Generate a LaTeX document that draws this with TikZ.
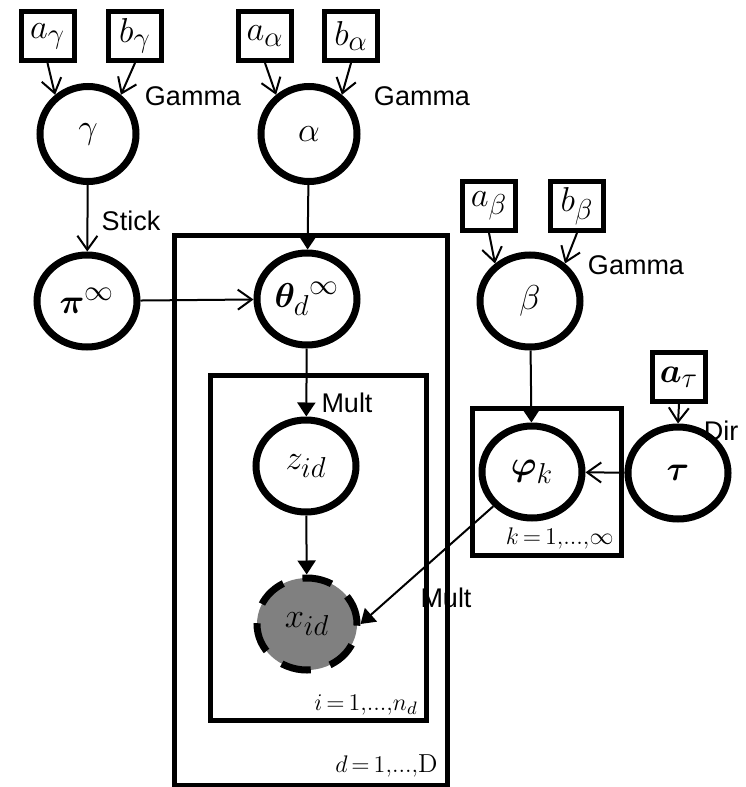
\documentclass[tikz,border=0pt]{standalone}
\usepackage{bm}
\usepackage{fontspec}
\newfontfamily\lblfont{Liberation Sans}
\usetikzlibrary{arrows.meta,shapes.geometric}
\newcommand{\tighteq}{\thickmuskip=3mu\relax}

\tikzset{
  rv/.style={ellipse, draw, line width=3.5pt, minimum width=50pt, minimum height=46pt,
    inner sep=0pt, font=\fontsize{19}{21}\selectfont},
  hyper/.style={rectangle, draw, line width=2.5pt, minimum width=26.5pt, minimum height=24.5pt,
    inner sep=0pt, font=\fontsize{19}{21}\selectfont},
  obs/.style={rv, fill=black!50, dash pattern=on 15pt off 10pt},
  plate/.style={draw, line width=2.5pt},
  dist/.style={font=\lblfont\fontsize{13.5}{15}\selectfont},
  platelbl/.style={anchor=east, inner sep=0pt, font=\fontsize{13}{15}\selectfont},
  openarr/.style={-{Straight Barb[length=7pt,width=10pt]}, line width=1pt},
  fillarr/.style={-{Triangle[length=7pt,width=9pt]}, line width=1pt}
}

\begin{document}
\begin{tikzpicture}[x=0.5pt, y=-0.5pt]
  \useasboundingbox (0,0) rectangle (745,787);

  % plates
  \draw[plate] (174.5,235) rectangle (447.5,785);
  \draw[plate] (210,375.5) rectangle (426.5,720.5);
  \draw[plate] (472,408.5) rectangle (621.5,555.5);
  \node[platelbl] (dlbl) at (438,766) {$\tighteq d=1{,}...{,}\mathrm{D}$};
  \node[platelbl] (ilbl) at (418,705) {$\tighteq i=1{,}...{,}n_d$};
  \node[platelbl] (klbl) at (614,538) {$\tighteq k=1{,}...{,}\infty$};

  % hyperparameters
  \node[hyper] (agamma) at (47.5,36) {$a_\gamma$};
  \node[hyper] (bgamma) at (135,36) {$b_\gamma$};
  \node[hyper] (aalpha) at (265,36) {$a_\alpha$};
  \node[hyper] (balpha) at (351,36) {$b_\alpha$};
  \node[hyper] (abeta) at (489,206) {$a_\beta$};
  \node[hyper] (bbeta) at (577,206) {$b_\beta$};
  \node[hyper] (atau) at (679,377) {$\bm{a}_\tau$};

  % random variables
  \node[rv, minimum width=48pt, minimum height=47.5pt] (gam) at (88,134) {$\gamma$};
  \node[rv, minimum width=48pt, minimum height=47.5pt] (alp) at (309,134) {$\alpha$};
  \node[rv] (pinf) at (87,301) {$\bm{\pi}^{\infty}$};
  \node[rv] (theta) at (307,299) {$\bm{\theta}_d{}^{\infty}$};
  \node[rv] (bet) at (530,301) {$\beta$};
  \node[rv] (z) at (306,466) {$z_{id}$};
  \node[obs] (x) at (307,624) {$x_{id}$};
  \node[rv] (phi) at (532,472) {$\bm{\varphi}_k$};
  \node[rv] (tau) at (678,473) {$\bm{\tau}$};

  % distribution labels
  \node[dist] (g1) at (193,96) {Gamma};
  \node[dist] (g2) at (422,96) {Gamma};
  \node[dist] (g3) at (636,265) {Gamma};
  \node[dist] (stk) at (131,221) {Stick};
  \node[dist] (m1) at (347,403) {Mult};
  \node[dist] (m2) at (446,598) {Mult};
  \node[dist] (dir) at (721,431) {Dir};

  % edges
  \draw[openarr] (agamma.south) -- (gam.130);
  \draw[openarr] (bgamma.south) -- (gam.50);
  \draw[openarr] (aalpha.south) -- (alp.130);
  \draw[openarr] (balpha.south) -- (alp.50);
  \draw[openarr] (abeta.south) -- (bet.133);
  \draw[openarr] (bbeta.south) -- (bet.47);
  \draw[openarr] (atau.south) -- (tau.north);
  \draw[openarr] (gam) -- (pinf);
  \draw[openarr] (pinf) -- (theta);
  \draw[openarr] (tau) -- (phi);
  \draw[fillarr] (alp) -- (theta);
  \draw[fillarr] (theta) -- (z);
  \draw[fillarr] (z) -- (x);
  \draw[fillarr] (bet) -- (phi);
  \draw[fillarr] (phi) -- (x.east);
\end{tikzpicture}
\end{document}
